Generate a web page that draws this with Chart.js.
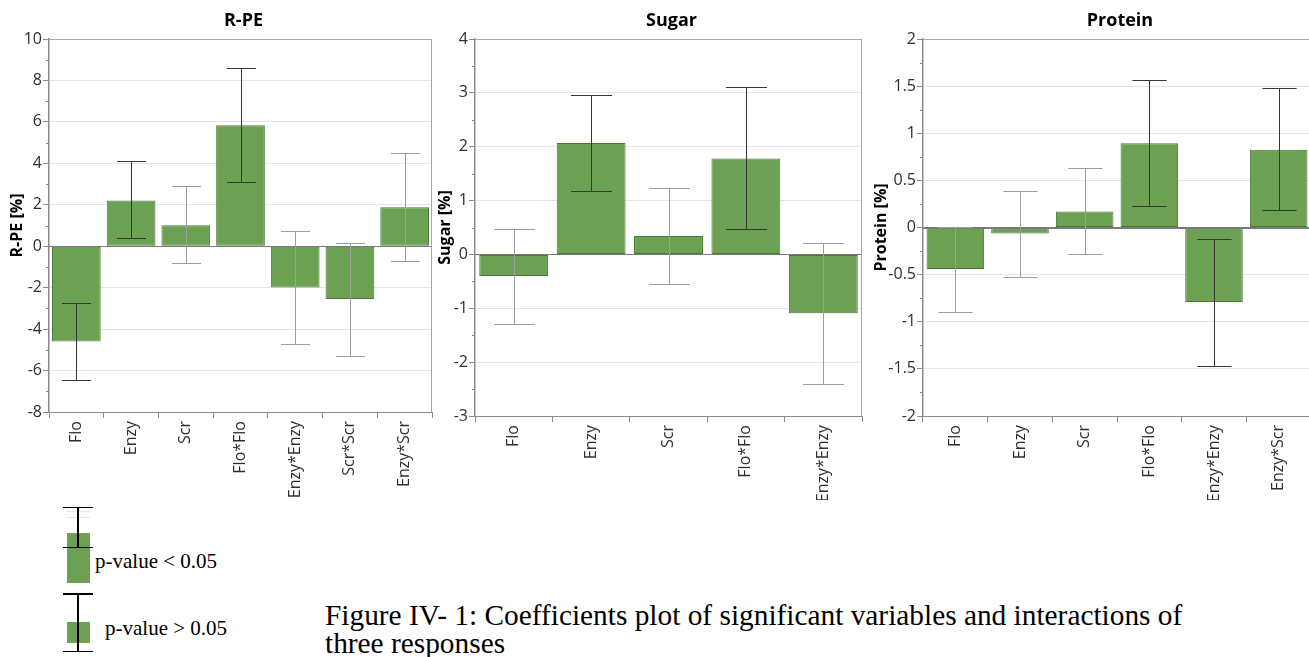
<!DOCTYPE html>
<html>
<head>
<meta charset="utf-8">
<script src="https://cdn.jsdelivr.net/npm/chart.js"></script>
<style>
  html, body { margin: 0; padding: 0; background: #ffffff; }
  body { width: 1309px; height: 657px; overflow: hidden; position: relative; }
  canvas { position: absolute; top: 0; }
  .txt { position: absolute; font-family: "Liberation Serif", "Times New Roman", serif; color: #000; white-space: nowrap; }
  .ln { position: absolute; background: #000; }
  .box { position: absolute; background: #6ca154; }
  .faint { position: absolute; background: #e6e6e6; height: 1px; }
</style>
</head>
<body>
<canvas id="c1" width="440" height="500" style="left:0px"></canvas>
<canvas id="c2" width="436" height="500" style="left:434px"></canvas>
<canvas id="c3" width="447" height="500" style="left:864px"></canvas>

<!-- legend icon 1: p-value < 0.05 -->
<div class="faint" style="left:66px; top:511px; width:24px;"></div>
<div class="faint" style="left:66px; top:517px; width:24px;"></div>
<div class="box" style="left:67px; top:533px; width:23px; height:50px;"></div>
<div class="ln" style="left:63px; top:506.5px; width:30px; height:1.5px;"></div>
<div class="ln" style="left:77px; top:507px; width:1.5px; height:40px;"></div>
<div class="ln" style="left:63px; top:546.5px; width:30px; height:1.5px;"></div>
<div class="txt" style="left:95px; top:551.4px; font-size:21px; line-height:21px;">p-value &lt; 0.05</div>

<!-- legend icon 2: p-value > 0.05 -->
<div class="box" style="left:67px; top:622px; width:23px; height:21px;"></div>
<div class="ln" style="left:63px; top:593px; width:30px; height:1.5px;"></div>
<div class="ln" style="left:77px; top:594px; width:1.5px; height:57px;"></div>
<div class="ln" style="left:63px; top:650.5px; width:30px; height:1.5px;"></div>
<div class="txt" style="left:105px; top:618px; font-size:21px; line-height:21px;">p-value &gt; 0.05</div>

<!-- caption -->
<div class="txt" style="left:325px; top:600.5px; font-size:29.35px; line-height:28px;">Figure IV- 1: Coefficients plot of significant variables and interactions of<br>three responses</div>

<script>
// ---------------- DATA ----------------
const rpeCategories = ['Flo', 'Enzy', 'Scr', 'Flo*Flo', 'Enzy*Enzy', 'Scr*Scr', 'Enzy*Scr'];
const rpeCoef  = [-4.60, 2.21, 1.01, 5.84, -1.99, -2.55, 1.88];
const rpeLow   = [-6.44, 0.38, -0.80, 3.12, -4.74, -5.31, -0.70];
const rpeHigh  = [-2.76, 4.09, 2.91, 8.59, 0.72, 0.14, 4.52];
const rpeSignificant = [true, true, false, true, false, false, false];
const rpeTicks = [-8, -6, -4, -2, 0, 2, 4, 6, 8, 10];
const rpeTickLabels = ['-8', '-6', '-4', '-2', '0', '2', '4', '6', '8', '10'];

const sugarCategories = ['Flo', 'Enzy', 'Scr', 'Flo*Flo', 'Enzy*Enzy'];
const sugarCoef  = [-0.40, 2.07, 0.34, 1.78, -1.09];
const sugarLow   = [-1.30, 1.18, -0.55, 0.48, -2.41];
const sugarHigh  = [0.48, 2.96, 1.24, 3.10, 0.22];
const sugarSignificant = [false, true, false, true, false];
const sugarTicks = [-3, -2, -1, 0, 1, 2, 3, 4];
const sugarTickLabels = ['-3', '-2', '-1', '0', '1', '2', '3', '4'];

const proteinCategories = ['Flo', 'Enzy', 'Scr', 'Flo*Flo', 'Enzy*Enzy', 'Enzy*Scr'];
const proteinCoef  = [-0.44, -0.064, 0.17, 0.895, -0.79, 0.825];
const proteinLow   = [-0.90, -0.527, -0.28, 0.23, -1.47, 0.19];
const proteinHigh  = [0.01, 0.385, 0.63, 1.57, -0.124, 1.48];
const proteinSignificant = [false, false, false, true, true, true];
const proteinTicks = [-2, -1.5, -1, -0.5, 0, 0.5, 1, 1.5, 2];
const proteinTickLabels = ['-2', '-1.5', '-1', '-0.5', '0', '0.5', '1', '1.5', '2'];

const panelTitles = ['R-PE', 'Sugar', 'Protein'];
const axisTitles = ['R-PE [%]', 'Sugar [%]', 'Protein [%]'];

// ---------------- STYLE ----------------
const FONT = '"Open Sans", "Noto Sans", sans-serif';
const BAR_FILL = '#6ca154';
const BAR_EDGE = '#4a7838';
const ERR_SIG = '#363636';
const ERR_NS = '#9e9e9e';

const panelPlugin = {
  id: 'panelDeco',
  afterDatasetsDraw(chart, args, opts) {
    const ctx = chart.ctx;
    const ca = chart.chartArea;
    const xs = chart.scales.x, ys = chart.scales.y;
    ctx.save();
    // zero line
    const y0 = Math.round(ys.getPixelForValue(0)) + 0.5;
    ctx.strokeStyle = '#7a7a7a';
    ctx.lineWidth = 1;
    ctx.beginPath(); ctx.moveTo(ca.left, y0); ctx.lineTo(ca.right, y0); ctx.stroke();
    // error bars
    const n = opts.low.length;
    const catW = (ca.right - ca.left) / n;
    const half = catW * 0.265;
    for (let i = 0; i < n; i++) {
      const x = Math.round(xs.getPixelForValue(i)) + 0.5;
      const yl = Math.round(ys.getPixelForValue(opts.low[i])) + 0.5;
      const yh = Math.round(ys.getPixelForValue(opts.high[i])) + 0.5;
      ctx.strokeStyle = opts.sig[i] ? ERR_SIG : ERR_NS;
      ctx.lineWidth = 1;
      ctx.beginPath();
      ctx.moveTo(x, yl); ctx.lineTo(x, yh);
      ctx.moveTo(x - half, yl); ctx.lineTo(x + half, yl);
      ctx.moveTo(x - half, yh); ctx.lineTo(x + half, yh);
      ctx.stroke();
    }
    ctx.restore();
  },
  afterDraw(chart, args, opts) {
    const ctx = chart.ctx;
    const ca = chart.chartArea;
    const ys = chart.scales.y;
    ctx.save();
    // minor ticks between major ticks
    ctx.strokeStyle = '#8a8a8a';
    ctx.lineWidth = 1;
    const t = opts.ticks;
    for (let i = 0; i < t.length - 1; i++) {
      const y = Math.round(ys.getPixelForValue((t[i] + t[i + 1]) / 2)) + 0.5;
      ctx.beginPath(); ctx.moveTo(ca.left - 3, y); ctx.lineTo(ca.left, y); ctx.stroke();
    }
    // frame top & right
    ctx.strokeStyle = '#a6a6a6';
    ctx.beginPath();
    ctx.moveTo(ca.left, Math.round(ca.top) + 0.5); ctx.lineTo(ca.right, Math.round(ca.top) + 0.5);
    ctx.moveTo(Math.round(ca.right) - 0.5, ca.top); ctx.lineTo(Math.round(ca.right) - 0.5, ca.bottom);
    ctx.stroke();
    // panel title
    ctx.fillStyle = '#000';
    ctx.font = 'bold 18px ' + FONT;
    ctx.textAlign = 'center';
    ctx.textBaseline = 'alphabetic';
    ctx.fillText(opts.title, (ca.left + ca.right) / 2 + 3, 25.5);
    ctx.restore();
  }
};

function makePanel(id, cfg) {
  return new Chart(document.getElementById(id), {
    type: 'bar',
    data: {
      labels: cfg.labels,
      datasets: [{
        data: cfg.coef,
        backgroundColor: BAR_FILL,
        borderColor: BAR_EDGE,
        borderWidth: 1,
        borderSkipped: false,
        barPercentage: 0.89,
        categoryPercentage: 1.0
      }]
    },
    options: {
      responsive: false,
      animation: false,
      devicePixelRatio: 1,
      layout: { padding: { top: 39, right: cfg.padRight, left: 0, bottom: 0 } },
      plugins: {
        legend: { display: false },
        tooltip: { enabled: false },
        title: { display: false },
        panelDeco: { low: cfg.low, high: cfg.high, sig: cfg.sig, ticks: cfg.ticks, title: cfg.title }
      },
      scales: {
        x: {
          offset: true,
          grid: { drawOnChartArea: false, drawTicks: true, tickLength: 6, tickColor: '#8a8a8a' },
          border: { display: true, color: '#8a8a8a', width: 1 },
          ticks: {
            minRotation: 90, maxRotation: 90, autoSkip: false,
            font: { family: FONT, size: 16 }, color: '#2e2e2e', padding: 3
          },
          afterFit: s => { s.height = cfg.xAxisH; }
        },
        y: {
          min: cfg.ticks[0],
          max: cfg.ticks[cfg.ticks.length - 1],
          afterBuildTicks: a => { a.ticks = cfg.ticks.map(v => ({ value: v })); },
          ticks: {
            callback: (v, i) => cfg.tickLabels[i],
            font: { family: FONT, size: 16 }, color: '#2e2e2e', padding: 1
          },
          grid: {
            color: c => {
              const v = c.tick ? c.tick.value : null;
              if (v === 0) return '#7a7a7a';
              if (v === cfg.ticks[0] || v === cfg.ticks[cfg.ticks.length - 1]) return 'rgba(0,0,0,0)';
              return '#e4e4e4';
            },
            tickColor: '#8a8a8a',
            tickLength: 6
          },
          border: { display: true, color: '#8a8a8a', width: 1.5 },
          title: {
            display: true, text: cfg.yTitle, color: '#000',
            font: { family: FONT, size: 16, weight: 'bold' },
            padding: { top: cfg.titlePad, bottom: 0 }
          },
          afterFit: s => { s.width = cfg.yAxisW; }
        }
      }
    },
    plugins: [panelPlugin]
  });
}

makePanel('c1', {
  labels: rpeCategories, coef: rpeCoef, low: rpeLow, high: rpeHigh, sig: rpeSignificant,
  ticks: rpeTicks, tickLabels: rpeTickLabels, title: panelTitles[0], yTitle: axisTitles[0],
  padRight: 8, yAxisW: 49, xAxisH: 88, titlePad: 7.7
});
makePanel('c2', {
  labels: sugarCategories, coef: sugarCoef, low: sugarLow, high: sugarHigh, sig: sugarSignificant,
  ticks: sugarTicks, tickLabels: sugarTickLabels, title: panelTitles[1], yTitle: axisTitles[1],
  padRight: 8, yAxisW: 41, xAxisH: 84, titlePad: 2.1
});
makePanel('c3', {
  labels: proteinCategories, coef: proteinCoef, low: proteinLow, high: proteinHigh, sig: proteinSignificant,
  ticks: proteinTicks, tickLabels: proteinTickLabels, title: panelTitles[2], yTitle: axisTitles[2],
  padRight: 0, yAxisW: 59, xAxisH: 84, titlePad: 8.1
});
</script>
</body>
</html>
